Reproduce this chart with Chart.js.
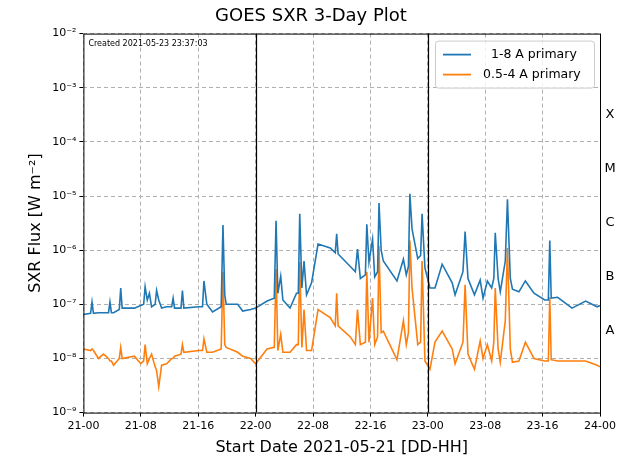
<!DOCTYPE html>
<html>
<head>
<meta charset="utf-8">
<script src="https://cdn.jsdelivr.net/npm/chart.js@4"></script>
<style>
  html, body { margin: 0; padding: 0; background: #fff; }
  #wrap { width: 630px; height: 469px; }
</style>
</head>
<body>
<div id="wrap"><canvas id="grafico"></canvas></div>
<script>
// hours since 2021-05-21 00:00
const horas = [0,1.0,1.2,1.4,2.1,2.8,3.5,3.7,3.9,4.2,5.0,5.2,5.4,7.1,8.0,8.4,8.6,8.9,9.2,9.5,10.0,10.2,10.5,10.9,11.6,12.3,12.5,12.7,13.6,13.8,14.0,16.1,16.6,16.8,17.2,18,19.2,19.45,19.7,19.9,21.5,22.2,23.3,24,25.6,26.6,26.85,27.1,27.5,27.8,28.8,29.7,29.95,30.15,30.45,30.75,31.1,31.8,32.7,34.4,35.1,35.3,35.5,37.2,37.9,38.2,38.6,39.3,39.5,39.8,40.3,40.6,41.0,41.2,41.5,41.8,43.7,44.6,45.0,45.3,45.5,45.8,46.0,46.6,47.0,47.2,47.6,48.3,49.0,50.0,51.4,51.8,52.9,53.2,53.6,54.5,55.3,55.7,56.3,56.9,57.2,57.4,57.8,58.1,58.8,59.1,59.5,59.8,60.7,61.6,62.8,64.3,64.8,65.0,65.2,66.1,68.1,70.0,71.6,72]
const longo = [6.5e-8,6.8e-8,1.1e-7,6.8e-8,7e-8,7e-8,7e-8,1.1e-7,7e-8,7e-8,8e-8,2e-7,8.5e-8,8.5e-8,9.5e-8,1e-7,2.1e-7,1.2e-7,1.6e-7,9e-8,1e-7,1.8e-7,1.2e-7,8.5e-8,9e-8,9e-8,1.3e-7,8.5e-8,8.5e-8,1.8e-7,8.5e-8,9e-8,9e-8,2.7e-7,1e-7,7.2e-8,9e-8,2.9e-6,1.5e-7,1e-7,1e-7,7.5e-8,8e-8,8.5e-8,1.15e-7,1.3e-7,3.5e-6,1.6e-7,3.3e-7,1.2e-7,8.5e-8,1.6e-7,1.6e-7,4.7e-6,2e-7,6.3e-7,1.5e-7,2.5e-7,1.3e-6,1.1e-6,9e-7,2e-6,8.5e-7,5e-7,4e-7,1.05e-6,3e-7,3.5e-7,3e-6,6e-7,1.6e-6,3.2e-7,4e-7,7.4e-6,1e-6,6.3e-7,2.7e-7,6.8e-7,3.5e-7,5e-7,1.1e-5,2.5e-6,1.8e-6,7e-7,8e-7,4.7e-6,4.7e-7,2e-7,2e-7,5.5e-7,2.5e-7,1.5e-7,4e-7,2.2e-6,3e-7,1.5e-7,2.8e-7,1.3e-7,2.7e-7,2e-7,3e-7,2.1e-6,3e-7,1.7e-7,6.3e-7,8.7e-6,3e-7,1.9e-7,1.7e-7,2.7e-7,1.6e-7,1.2e-7,1.2e-7,1.5e-6,1.3e-7,1.35e-7,8.5e-8,1.15e-7,9e-8,9.5e-8]
const curto = [1.5e-8,1.4e-8,1.5e-8,1.4e-8,1e-8,1.2e-8,1e-8,9e-9,9e-9,7.5e-9,1e-8,1.6e-8,1e-8,1.1e-8,8e-9,9e-9,1.8e-8,8e-9,1e-8,1.2e-8,7e-9,6e-9,3e-9,7.5e-9,8e-9,1e-8,1e-8,1.1e-8,1.2e-8,1.8e-8,1.3e-8,1.4e-8,1.4e-8,2.3e-8,1.3e-8,1.3e-8,1.5e-8,4e-7,1.8e-8,1.6e-8,1.3e-8,1.1e-8,1e-8,8e-9,1.5e-8,1.6e-8,4.5e-7,1.4e-8,2.8e-8,1.3e-8,1.3e-8,1.8e-8,1.8e-8,6e-7,1.6e-8,8e-8,1.4e-8,1.4e-8,8e-8,5.7e-8,4e-8,1.6e-7,4e-8,2.5e-8,1.8e-8,8e-8,1.8e-8,2e-8,4e-7,2e-8,1.3e-7,1.8e-8,2.5e-8,1.2e-6,3e-8,3.2e-8,9.5e-9,5e-8,1.8e-8,3e-8,1.5e-6,2e-7,1.1e-7,1.8e-8,2e-8,6.3e-7,9e-9,6.3e-9,2e-8,3.2e-8,1.5e-8,8e-9,2e-8,2.3e-7,1.2e-8,6.3e-9,2.1e-8,1e-8,1.8e-8,9e-9,2e-8,2e-7,1.5e-8,8.5e-9,5e-8,1.1e-6,1.5e-8,8.5e-9,9e-9,2e-8,1e-8,9e-9,9e-9,1.35e-7,9.5e-9,9e-9,9e-9,9e-9,7.5e-9,7e-9]
const nomes = ['  1-8 A primary', '0.5-4 A primary']
const cores = ['#1f77b4', '#ff7f0e']
const dias = ['21', '22', '23', '24']
const classes = [['X', 3.2e-4], ['M', 3.2e-5], ['C', 3.2e-6], ['B', 3.2e-7], ['A', 3.2e-8]]

Chart.defaults.font.family = 'DejaVu Sans'
Chart.defaults.color = '#000'

const extras = {
    id: 'extras',
    afterDatasetsDraw(chart) {
        const { ctx, chartArea: a, scales: { x, y } } = chart
        ctx.save()
        // day separators
        ctx.strokeStyle = '#000'
        ctx.lineWidth = 1.2
        for (const h of [24, 48]) {
            const px = Math.round(x.getPixelForValue(h)) + 0.5
            ctx.beginPath(); ctx.moveTo(px, a.top); ctx.lineTo(px, a.bottom); ctx.stroke()
        }
        // frame
        ctx.lineWidth = 1
        ctx.strokeRect(a.left + 0.5, a.top + 0.5, a.right - a.left, a.bottom - a.top)
        // created stamp
        ctx.fillStyle = '#000'
        ctx.font = '8px DejaVu Sans'
        ctx.textBaseline = 'middle'
        ctx.fillText('Created 2021-05-23 23:37:03', a.left + 5, a.top + 10)
        // class letters
        ctx.font = '13px DejaVu Sans'
        ctx.textAlign = 'center'
        for (const [c, v] of classes) ctx.fillText(c, a.right + 10, y.getPixelForValue(v))
        // legend
        const bx = a.right - 165, by = a.top + 7, bw = 159, bh = 47
        ctx.fillStyle = 'rgba(255,255,255,0.8)'
        ctx.strokeStyle = '#ccc'
        ctx.beginPath(); ctx.roundRect(bx + 0.5, by + 0.5, bw, bh, 3); ctx.fill(); ctx.stroke()
        ctx.textAlign = 'left'
        ctx.font = '12.5px DejaVu Sans'
        nomes.forEach((n, i) => {
            const ly = by + 14 + i * 20
            ctx.strokeStyle = cores[i]; ctx.lineWidth = 1.8
            ctx.beginPath(); ctx.moveTo(bx + 8, ly); ctx.lineTo(bx + 36, ly); ctx.stroke()
            ctx.fillStyle = '#000'
            ctx.fillText(n, bx + 48, ly)
        })
        ctx.restore()
    }
}

const supers = { '-': '⁻', '0': '⁰', '1': '¹', '2': '²', '3': '³', '4': '⁴', '5': '⁵', '6': '⁶', '7': '⁷', '8': '⁸', '9': '⁹' }

new Chart(document.getElementById('grafico'), {
    type: 'line',
    data: {
        datasets: [longo, curto].map((serie, i) => ({
            label: nomes[i],
            data: horas.map((h, k) => ({ x: h, y: serie[k] })),
            borderColor: cores[i],
            borderWidth: 1.6,
            pointRadius: 0,
            tension: 0
        }))
    },
    options: {
        responsive: true,
        maintainAspectRatio: false,
        animation: false,
        layout: { padding: { left: 22, right: 30, top: 0, bottom: 8 } },
        plugins: {
            legend: { display: false },
            tooltip: { enabled: false },
            title: { display: true, text: 'GOES SXR 3-Day Plot', font: { size: 18, weight: 'normal' }, padding: { top: 6, bottom: 6 } }
        },
        scales: {
            x: {
                type: 'linear', min: 0, max: 72,
                ticks: {
                    stepSize: 8, font: { size: 11 },
                    callback: v => dias[Math.floor(v / 24)] + '-' + String(v % 24).padStart(2, '0')
                },
                grid: { color: '#b0b0b0', tickColor: '#000', tickLength: 4 },
                border: { dash: [4, 3], display: false },
                title: { display: true, text: 'Start Date 2021-05-21 [DD-HH]', font: { size: 16 }, padding: { top: 2 } }
            },
            y: {
                type: 'logarithmic', min: 1e-9, max: 1e-2,
                afterBuildTicks: s => { s.ticks = [-9, -8, -7, -6, -5, -4, -3, -2].map(e => ({ value: Math.pow(10, e) })) },
                ticks: {
                    font: { size: 11 },
                    callback: v => '10' + String(Math.round(Math.log10(v))).split('').map(c => supers[c]).join('')
                },
                grid: { color: '#b0b0b0', tickColor: '#000', tickLength: 4 },
                border: { dash: [4, 3], display: false },
                title: { display: true, text: 'SXR Flux [W m⁻²]', font: { size: 16 } }
            }
        }
    },
    plugins: [extras]
})
</script>
</body>
</html>
